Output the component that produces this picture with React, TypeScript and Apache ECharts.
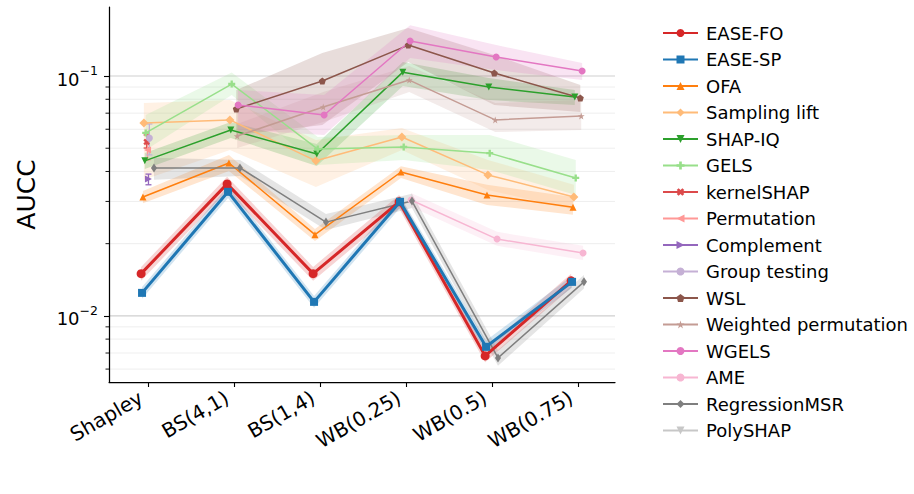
import React, { useEffect, useRef } from 'react';
import * as echarts from 'echarts';

// Sampling schemes on the x axis
const categories = ['Shapley', 'BS(4,1)', 'BS(1,4)', 'WB(0.25)', 'WB(0.5)', 'WB(0.75)'];

// Mean AUCC per method (null = method not run for that scheme) with lower / upper spread
const easeFO = [0.0150, 0.0355, 0.0150, 0.0299, 0.00681, 0.0140];
const easeFOLo = [0.0140, 0.0332, 0.0140, 0.0280, 0.0064, 0.0131];
const easeFOHi = [0.0160, 0.0380, 0.0160, 0.0319, 0.0073, 0.0150];

const easeSP = [0.01247, 0.0329, 0.01144, 0.0299, 0.00743, 0.01386];
const easeSPLo = [0.0118, 0.0310, 0.0108, 0.0282, 0.0070, 0.0131];
const easeSPHi = [0.0132, 0.0348, 0.0121, 0.0316, 0.0079, 0.0147];

const ofa = [0.0313, 0.0434, 0.0218, 0.0398, 0.0319, 0.0284];
const ofaLo = [0.0295, 0.0402, 0.0205, 0.0376, 0.0290, 0.0264];
const ofaHi = [0.0332, 0.0469, 0.0230, 0.0421, 0.0352, 0.0313];

const samplingLift = [0.0637, 0.0656, 0.0443, 0.0557, 0.0387, 0.0313];
const samplingLiftLo = [0.0369, 0.0492, 0.0345, 0.0492, 0.0335, 0.0277];
const samplingLiftHi = [0.0772, 0.0794, 0.0541, 0.0607, 0.0447, 0.0352];

const shapIQ = [0.0443, 0.0596, 0.0473, 0.1038, 0.0900, 0.0818];
const shapIQLo = [0.0410, 0.0552, 0.0422, 0.0908, 0.0794, 0.0757];
const shapIQHi = [0.0478, 0.0643, 0.0521, 0.1144, 0.0981, 0.0874];

const gels = [0.0579, 0.0926, 0.0496, 0.0506, 0.0477, 0.0376];
const gelsLo = [0.0492, 0.0834, 0.0426, 0.0447, 0.0406, 0.0319];
const gelsHi = [0.0688, 0.1035, 0.0557, 0.0568, 0.0568, 0.0447];

const kernelShap = [0.0531, null, null, null, null, null];
const kernelShapLo = [0.0501, null, null, null, null, null];
const kernelShapHi = [0.0568, null, null, null, null, null];

const permutation = [0.0492, null, null, null, null, null];
const permutationLo = [0.0447, null, null, null, null, null];
const permutationHi = [0.0541, null, null, null, null, null];

const complement = [0.0372, null, null, null, null, null];
const complementLo = [0.0352, null, null, null, null, null];
const complementHi = [0.0390, null, null, null, null, null];

const groupTesting = [0.0551, null, null, null, null, null];
const groupTestingLo = [0.0469, null, null, null, null, null];
const groupTestingHi = [0.0631, null, null, null, null, null];

const wsl = [null, 0.0729, 0.0953, 0.1346, 0.1029, 0.0810];
const wslLo = [null, 0.0568, 0.0625, 0.1144, 0.0757, 0.0708];
const wslHi = [null, 0.0874, 0.1247, 0.1586, 0.1223, 0.0917];

const weightedPerm = [null, 0.0562, 0.0743, 0.0962, 0.0656, 0.0681];
const weightedPermLo = [null, 0.0501, 0.0643, 0.0857, 0.0584, 0.0596];
const weightedPermHi = [null, 0.0631, 0.0857, 0.1101, 0.0772, 0.0794];

const wgels = [null, 0.0757, 0.0688, 0.1400, 0.1200, 0.1050];
const wgelsLo = [null, 0.0596, 0.0568, 0.1189, 0.1059, 0.0962];
const wgelsHi = [null, 0.0874, 0.0834, 0.1629, 0.1346, 0.1133];

const ame = [null, null, null, 0.0304, 0.0209, 0.0183];
const ameLo = [null, null, null, 0.0285, 0.0196, 0.0171];
const ameHi = [null, null, null, 0.0325, 0.0224, 0.0196];

const regressionMSR = [0.0414, 0.0414, 0.0246, 0.0301, 0.00668, 0.01386];
const regressionMSRLo = [0.0369, 0.0383, 0.0228, 0.0282, 0.0062, 0.0130];
const regressionMSRHi = [0.0456, 0.0447, 0.0266, 0.0323, 0.0072, 0.0148];

const polyShap: (number | null)[] = [null, null, null, null, null, null];

// y tick / grid values (log axis)
const majorTicks = [0.01, 0.1];
const minorTicks = [0.006, 0.007, 0.008, 0.009, 0.02, 0.03, 0.04, 0.05, 0.06, 0.07, 0.08, 0.09];

const FONT = 'DejaVu Sans';
const PLUS = 'path://M-1,-3H1V-1H3V1H1V3H-1V1H-3V-1H-1Z';
const PENTAGON = 'path://M0,-1L0.951,-0.309L0.588,0.809L-0.588,0.809L-0.951,-0.309Z';
const STAR = 'path://M0,-1L0.225,-0.309L0.951,-0.309L0.363,0.118L0.588,0.809L0,0.382L-0.588,0.809L-0.363,0.118L-0.951,-0.309L-0.225,-0.309Z';
const THIN_DIAMOND = 'path://M0,-1L0.6,0L0,1L-0.6,0Z';

type Method = {
  name: string;
  color: string;
  symbol: string;
  size: number | number[];
  rotate?: number;
  width: number;
  values: (number | null)[];
  lo?: (number | null)[];
  hi?: (number | null)[];
  errorbar?: boolean;
  z: number;
};

const methods: Method[] = [
  { name: 'EASE-FO', color: '#d62728', symbol: 'circle', size: 9, width: 3, values: easeFO, lo: easeFOLo, hi: easeFOHi, z: 5 },
  { name: 'EASE-SP', color: '#1f77b4', symbol: 'rect', size: 8, width: 3, values: easeSP, lo: easeSPLo, hi: easeSPHi, z: 6 },
  { name: 'OFA', color: '#ff7f0e', symbol: 'triangle', size: 7, width: 1.5, values: ofa, lo: ofaLo, hi: ofaHi, z: 4 },
  { name: 'Sampling lift', color: '#ffbb78', symbol: 'diamond', size: 9, width: 1.5, values: samplingLift, lo: samplingLiftLo, hi: samplingLiftHi, z: 4 },
  { name: 'SHAP-IQ', color: '#2ca02c', symbol: 'triangle', rotate: 180, size: 7, width: 1.5, values: shapIQ, lo: shapIQLo, hi: shapIQHi, z: 4 },
  { name: 'GELS', color: '#98df8a', symbol: PLUS, size: 7, width: 1.5, values: gels, lo: gelsLo, hi: gelsHi, z: 4 },
  { name: 'kernelSHAP', color: '#dc4a4b', symbol: PLUS, rotate: 45, size: 7, width: 1.5, values: kernelShap, lo: kernelShapLo, hi: kernelShapHi, errorbar: true, z: 4 },
  { name: 'Permutation', color: '#ff9896', symbol: 'triangle', rotate: 90, size: 7, width: 1.5, values: permutation, lo: permutationLo, hi: permutationHi, errorbar: true, z: 4 },
  { name: 'Complement', color: '#9467bd', symbol: 'triangle', rotate: -90, size: 7, width: 1.5, values: complement, lo: complementLo, hi: complementHi, errorbar: true, z: 4 },
  { name: 'Group testing', color: '#c5b0d5', symbol: 'circle', size: 7, width: 1.5, values: groupTesting, lo: groupTestingLo, hi: groupTestingHi, errorbar: true, z: 4 },
  { name: 'WSL', color: '#8c564b', symbol: PENTAGON, size: 7, width: 1.5, values: wsl, lo: wslLo, hi: wslHi, z: 4 },
  { name: 'Weighted permutation', color: '#c49c94', symbol: STAR, size: 7, width: 1.5, values: weightedPerm, lo: weightedPermLo, hi: weightedPermHi, z: 4 },
  { name: 'WGELS', color: '#e377c2', symbol: 'circle', size: 7, width: 1.5, values: wgels, lo: wgelsLo, hi: wgelsHi, z: 4 },
  { name: 'AME', color: '#f7b6d2', symbol: 'circle', size: 7, width: 1.5, values: ame, lo: ameLo, hi: ameHi, z: 4 },
  { name: 'RegressionMSR', color: '#7f7f7f', symbol: THIN_DIAMOND, size: [6, 9], width: 1.5, values: regressionMSR, lo: regressionMSRLo, hi: regressionMSRHi, z: 4 },
  { name: 'PolySHAP', color: '#c7c7c7', symbol: 'triangle', rotate: 180, size: 4, width: 1.5, values: polyShap, z: 4 },
];

// small horizontal dodge so overlapping methods stay readable
const DODGE = 0.16;
const offsetOf = (i: number) => -DODGE / 2 + (i * DODGE) / (methods.length - 1);

const X_MIN = -0.4535;
const X_MAX = 5.43;

function buildOption() {
  const series: any[] = [];

  // horizontal grid lines and minor ticks
  const gridData = [
    ...majorTicks.map((v) => [0, v, 1]),
    ...minorTicks.map((v) => [0, v, 0]),
  ];
  series.push({
    type: 'custom',
    name: '__grid',
    silent: true,
    z: 0,
    data: gridData,
    renderItem: (params: any, api: any) => {
      const v = api.value(1);
      const major = api.value(2) === 1;
      const y = api.coord([0, v])[1];
      const cs = params.coordSys;
      const children: any[] = [
        {
          type: 'line',
          shape: { x1: cs.x, y1: y, x2: cs.x + cs.width, y2: y },
          style: { stroke: major ? '#cfcfcf' : '#ececec', lineWidth: major ? 1.1 : 0.9 },
        },
      ];
      if (!major) {
        children.push({
          type: 'line',
          shape: { x1: cs.x - 3.5, y1: y, x2: cs.x, y2: y },
          style: { stroke: '#000', lineWidth: 0.9 },
        });
      }
      return { type: 'group', children };
    },
  });

  methods.forEach((m, idx) => {
    const off = offsetOf(idx);
    const pts: number[][] = [];
    const spread: number[][] = [];
    m.values.forEach((v, i) => {
      if (v == null) return;
      pts.push([i + off, v]);
      if (m.lo && m.hi && m.lo[i] != null && m.hi[i] != null) {
        spread.push([i + off, m.lo[i] as number, m.hi[i] as number]);
      }
    });

    if (spread.length && !m.errorbar) {
      series.push({
        type: 'custom',
        name: '__band_' + m.name,
        silent: true,
        z: 1,
        data: spread,
        renderItem: (params: any, api: any) => {
          if (params.dataIndexInside !== 0) return null;
          const n = params.dataInsideLength;
          const top: number[][] = [];
          const bottom: number[][] = [];
          for (let i = 0; i < n; i++) {
            const x = api.value(0, i);
            top.push(api.coord([x, api.value(2, i)]));
            bottom.push(api.coord([x, api.value(1, i)]));
          }
          return {
            type: 'polygon',
            shape: { points: top.concat(bottom.reverse()) },
            style: { fill: m.color, opacity: 0.2 },
          };
        },
      });
    }

    if (spread.length && m.errorbar) {
      series.push({
        type: 'custom',
        name: '__err_' + m.name,
        silent: true,
        z: 3,
        data: spread,
        renderItem: (params: any, api: any) => {
          const x = api.value(0);
          const p1 = api.coord([x, api.value(1)]);
          const p2 = api.coord([x, api.value(2)]);
          const st = { stroke: m.color, lineWidth: 1.3 };
          return {
            type: 'group',
            children: [
              { type: 'line', shape: { x1: p1[0], y1: p1[1], x2: p2[0], y2: p2[1] }, style: st },
              { type: 'line', shape: { x1: p1[0] - 3, y1: p1[1], x2: p1[0] + 3, y2: p1[1] }, style: st },
              { type: 'line', shape: { x1: p2[0] - 3, y1: p2[1], x2: p2[0] + 3, y2: p2[1] }, style: st },
            ],
          };
        },
      });
    }

    series.push({
      type: 'line',
      name: m.name,
      data: pts,
      z: m.z,
      symbol: m.symbol,
      symbolSize: m.size,
      symbolRotate: m.rotate || 0,
      showSymbol: true,
      lineStyle: { color: m.color, width: m.width },
      itemStyle: { color: m.color, borderWidth: 0 },
      emphasis: { disabled: true },
    });
  });

  return {
    animation: false,
    backgroundColor: '#ffffff',
    textStyle: { fontFamily: FONT },
    grid: { left: 109, top: 7, right: 299, bottom: 112, containLabel: false },
    legend: {
      orient: 'vertical',
      left: 657,
      top: 18,
      itemWidth: 35,
      itemHeight: 10,
      itemGap: 6.5,
      selectedMode: false,
      data: methods.map((m) => m.name),
      textStyle: { fontFamily: FONT, fontSize: 18, color: '#000', lineHeight: 20, padding: [0, 0, 0, 3] },
    },
    xAxis: {
      type: 'value',
      min: X_MIN,
      max: X_MAX,
      splitLine: { show: false },
      axisLine: { show: true, onZero: false, lineStyle: { color: '#000', width: 1.25 } },
      axisTick: { show: true, customValues: categories.map((_, i) => i), length: 5, lineStyle: { color: '#000', width: 1.1 } },
      axisLabel: {
        customValues: categories.map((_, i) => i),
        formatter: (v: number) => categories[Math.round(v)] ?? '',
        rotate: 30,
        margin: 10,
        padding: [0, 8, 0, 0],
        fontFamily: FONT,
        fontSize: 20,
        color: '#000',
      },
    },
    yAxis: {
      type: 'log',
      logBase: 10,
      min: 0.0053,
      max: 0.194,
      name: 'AUCC',
      nameLocation: 'middle',
      nameRotate: 90,
      nameGap: 70,
      nameTextStyle: { fontFamily: FONT, fontSize: 25, color: '#000' },
      splitLine: { show: false },
      minorTick: { show: false },
      axisLine: { show: true, onZero: false, lineStyle: { color: '#000', width: 1.25 } },
      axisTick: { show: true, customValues: majorTicks, length: 5, lineStyle: { color: '#000', width: 1.1 } },
      axisLabel: {
        customValues: majorTicks,
        margin: 11,
        formatter: (v: number) => (v < 0.05 ? '{b|10}{s|−2}' : '{b|10}{s|−1}'),
        rich: {
          b: { fontFamily: FONT, fontSize: 18, color: '#000', lineHeight: 24, verticalAlign: 'bottom' },
          s: { fontFamily: FONT, fontSize: 12.5, color: '#000', lineHeight: 10, verticalAlign: 'top' },
        },
      },
    },
    series,
  };
}

export default function App() {
  const ref = useRef<HTMLDivElement>(null);
  useEffect(() => {
    if (!ref.current) return;
    const chart = echarts.init(ref.current, undefined, { renderer: 'svg' });
    chart.setOption(buildOption() as any);
    return () => chart.dispose();
  }, []);
  return (
    <div
      ref={ref}
      style={{ position: 'fixed', left: 0, top: 0, width: 914, height: 494, background: '#fff' }}
    />
  );
}
